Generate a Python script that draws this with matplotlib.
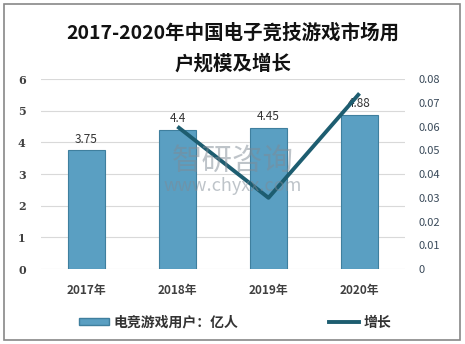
import matplotlib.pyplot as plt
import matplotlib.patches as mpatches
from matplotlib.lines import Line2D
import numpy as np

plt.rcParams['font.family'] = ['Noto Sans CJK SC', 'DejaVu Sans']

years = ['2017年', '2018年', '2019年', '2020年']
users = [3.75, 4.4, 4.45, 4.88]
growth_years = ['2018年', '2019年', '2020年']
growth = [0.06, 0.03, 0.074]

bar_color = '#5a9fc2'
line_color = '#1d5d70'

fig = plt.figure(figsize=(4.65, 3.44), dpi=100)
ax = fig.add_axes([0.088, 0.218, 0.783, 0.552])
x = np.arange(len(years))
ax.bar(x, users, width=0.4, color=bar_color, edgecolor='#3f7f9e', linewidth=0.8, zorder=2)
for xi, v in zip(x, users):
    ax.text(xi, v + 0.15, f'{v:g}', ha='center', va='bottom', fontsize=8.5, color='#333333', zorder=1)
ax.set_ylim(0, 6)
ax.set_xlim(-0.5, 3.5)
ax.set_yticks(range(0, 7))
ax.yaxis.grid(True, color='#d9d9d9', linewidth=0.8, zorder=0)
ax.set_axisbelow(True)
ax.set_xticks(x)
ax.set_xticklabels(years, fontsize=8.5, fontweight='bold', color='#404040')
ax.tick_params(axis='y', labelsize=8, colors='#404040', length=0, pad=11)
ax.tick_params(axis='x', length=0, pad=11)
for lbl in ax.get_yticklabels():
    lbl.set_fontfamily(['DejaVu Serif'])
    lbl.set_fontweight('bold')
for s in ax.spines.values():
    s.set_visible(False)

ax2 = ax.twinx()
gx = [years.index(g) for g in growth_years]
ax2.plot(gx, growth, color=line_color, linewidth=2.8, solid_capstyle='butt', zorder=3)
ax2.set_ylim(0, 0.08)
ax2.set_yticks([0, 0.01, 0.02, 0.03, 0.04, 0.05, 0.06, 0.07, 0.08])
ax2.set_yticklabels(['0', '0.01', '0.02', '0.03', '0.04', '0.05', '0.06', '0.07', '0.08'])
ax2.tick_params(axis='y', labelsize=8, colors='#3a4a5a', length=0, pad=10)
for s in ax2.spines.values():
    s.set_visible(False)

fig.text(0.5, 0.905, '2017-2020年中国电子竞技游戏市场用', ha='center', va='center',
         fontsize=14, fontweight='bold', color='#111111')
fig.text(0.5, 0.815, '户规模及增长', ha='center', va='center',
         fontsize=14, fontweight='bold', color='#111111')

# watermark
fig.text(0.5, 0.53, '智研咨询', ha='center', va='center', fontsize=22,
         color='#7f8a95', alpha=0.5)
fig.text(0.5, 0.46, 'www.chyxx.com', ha='center', va='center', fontsize=13,
         color='#7f8a95', alpha=0.5)

handles = [mpatches.Patch(facecolor=bar_color, edgecolor='#3f7f9e'),
           Line2D([0], [0], color=line_color, linewidth=2.8)]
leg = fig.legend(handles, ['电竞游戏用户：亿人', '增长'], loc='center', bbox_to_anchor=(0.505, 0.062),
                 ncol=2, frameon=False, handlelength=2.2, handleheight=0.45,
                 columnspacing=6.5, handletextpad=0.3,
                 prop={'size': 10, 'weight': 'bold'})
for t in leg.get_texts():
    t.set_color('#333333')

fig.patches.append(mpatches.Rectangle((0.009, 0.012), 0.981, 0.976, transform=fig.transFigure,
                                      fill=False, edgecolor='#888888', linewidth=1.2))

fig.savefig('out.png', dpi=100)
